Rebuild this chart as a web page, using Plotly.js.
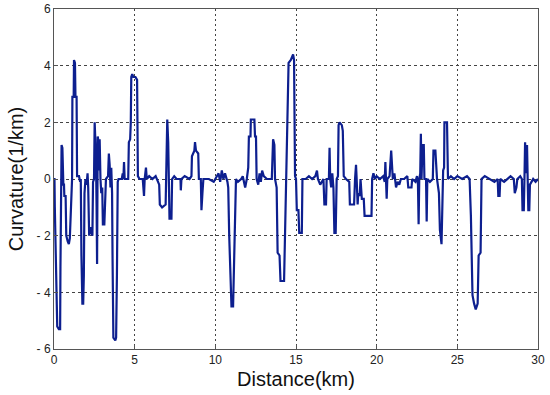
<!DOCTYPE html>
<html>
<head>
<meta charset="utf-8">
<script src="https://cdn.plot.ly/plotly-3.0.1.min.js"></script>
<style>html,body{margin:0;padding:0;background:#fff;}#chart{width:550px;height:395px;}</style>
</head>
<body>
<div id="chart"></div>
<script>
var distance = [
0.00,0.03,0.05,0.10,0.16,0.20,0.30,0.38,0.40,0.42,0.45,0.47,0.52,0.55,0.58,0.62,0.64,0.72,0.76,0.85,0.92,0.98,1.02,1.06,1.12,1.14,1.22,1.24,1.30,1.33,1.40,1.43,1.55,1.62,1.66,1.70,1.76,1.81,1.85,1.89,1.95,2.02,2.08,2.12,2.18,2.28,2.38,2.42,2.48,2.52,2.56,2.60,2.64,2.67,2.71,2.76,2.80,2.83,2.88,2.93,2.99,3.03,3.12,3.17,3.22,3.35,3.40,3.45,3.50,3.55,3.60,3.63,3.68,3.80,3.85,3.90,3.95,4.00,4.20,4.26,4.30,4.34,4.38,4.60,4.64,4.72,4.76,4.79,4.85,4.92,5.05,5.15,5.20,5.30,
5.50,5.58,5.62,5.70,5.75,5.90,6.10,6.30,6.45,6.52,6.56,6.70,6.92,6.96,7.02,7.08,7.12,7.16,7.28,7.32,7.45,7.60,7.84,7.86,7.90,8.10,8.40,8.52,8.55,8.70,8.74,8.80,8.94,8.98,9.10,9.14,9.20,9.26,9.60,9.90,10.00,10.20,10.30,10.40,10.50,10.60,10.75,
10.80,10.86,10.96,11.00,11.10,11.14,11.18,11.22,11.28,11.40,11.60,11.70,11.85,11.95,12.04,12.08,12.18,12.20,12.42,12.46,12.52,12.56,12.66,12.74,12.82,12.90,13.00,13.20,13.50,13.58,13.66,13.70,13.80,13.86,13.98,14.04,14.26,14.30,14.38,14.44,14.54,14.68,14.82,14.88,14.94,15.00,15.05,15.15,15.20,15.36,15.40,
15.60,15.80,16.00,16.20,16.30,16.36,16.50,16.70,16.76,16.86,16.90,17.04,17.08,17.12,17.18,17.25,17.32,17.38,17.46,17.52,17.60,17.64,17.70,17.84,17.90,17.96,18.10,18.30,18.34,18.60,18.66,18.72,18.76,18.82,18.86,18.95,19.00,19.08,19.20,19.25,19.68,19.72,19.80,19.90,20.00,20.20,20.40,20.50,20.54,20.58,20.62,20.66,20.80,20.90,20.95,21.00,21.10,21.20,21.30,21.40,21.50,
21.70,21.90,21.96,22.16,22.20,22.40,22.50,22.56,22.60,22.64,22.70,22.74,22.78,22.84,22.92,22.96,23.06,23.10,23.14,23.30,23.48,23.52,23.64,23.68,23.74,23.86,23.92,24.02,24.06,24.12,24.18,24.20,24.36,24.42,24.60,24.80,25.00,25.30,25.60,25.76,25.84,25.94,26.04,26.14,26.26,26.32,26.44,26.50,26.70,27.00,27.30,27.50,27.54,27.62,27.66,27.90,28.10,28.30,28.50,28.56,28.66,28.72,28.90,29.00,29.04,29.12,29.16,29.20,29.26,29.32,29.36,29.40,29.46,29.50,29.70,29.85,30.00
];
var curvature = [
0.0,0.0,-1.0,-3.0,-5.0,-5.2,-5.3,-5.3,-3.1,-0.3,0.1,1.2,1.1,0.1,-0.2,-0.2,-0.6,-0.6,-2.0,-2.2,-2.3,-2.1,-1.5,-0.3,0.0,2.9,2.9,4.2,4.1,2.9,2.9,0.1,0.1,-0.1,0.0,-2.7,-4.4,-4.4,-3.4,-0.5,0.0,-0.2,0.2,-0.3,-2.0,-1.7,-2.0,-0.1,0.0,2.0,1.5,0.8,-1.0,-3.0,1.5,1.3,0.3,1.4,0.0,-0.5,-0.3,-1.6,-1.6,-0.2,0.0,0.1,0.9,0.5,-0.3,0.4,-0.5,-2.8,-5.6,-5.7,-5.6,-3.4,-0.1,0.0,0.0,0.2,0.0,0.6,0.0,0.0,1.3,1.4,2.0,3.6,3.7,3.6,3.6,3.5,0.1,0.0,
0.0,-0.6,0.0,0.4,0.0,0.1,0.0,0.1,-0.1,-0.2,-0.9,-1.0,-0.9,0.0,2.1,1.3,0.0,-1.4,-1.4,0.0,0.1,0.0,0.0,-0.4,0.0,0.1,0.0,0.1,0.8,1.0,1.3,1.0,0.9,0.0,0.0,-1.1,-0.5,0.0,0.0,-0.1,0.0,0.2,-0.1,0.3,0.0,0.2,-0.1,
-0.3,-2.0,-4.2,-4.5,-4.5,-3.6,-2.0,-2.0,0.0,-0.1,0.0,0.1,-0.3,0.0,0.4,1.5,1.5,2.1,2.1,1.5,1.5,0.0,-0.2,0.2,-0.1,0.3,0.1,0.0,0.0,1.4,1.2,0.0,-0.3,-2.6,-2.7,-3.6,-3.6,-2.5,0.0,2.0,4.1,4.2,4.4,4.2,0.1,0.0,-1.1,-1.1,-1.9,-1.9,0.0,
0.0,0.1,0.0,0.1,0.3,0.0,-0.2,0.0,-0.9,-0.9,0.0,0.0,1.1,0.0,-0.3,0.2,-0.3,-1.9,-1.9,0.0,0.1,1.9,2.0,1.9,1.7,0.1,0.0,-0.1,-0.9,-0.9,0.0,0.5,0.0,-0.9,-0.5,-0.6,0.0,-0.7,-0.7,-1.3,-1.3,0.0,0.2,0.0,0.1,0.0,0.1,-0.1,0.6,0.0,-0.7,0.0,0.1,1.0,0.4,0.0,0.2,-0.3,-0.1,-0.2,0.0,
0.0,0.1,-0.3,-0.3,0.0,-0.1,0.1,-0.2,-1.6,0.0,0.2,1.6,0.0,1.2,1.2,0.0,0.0,-1.5,0.0,-0.1,0.0,1.0,1.0,0.6,0.0,-0.5,-1.8,-2.3,-0.5,0.3,0.4,2.0,2.0,0.0,0.1,0.0,0.1,0.0,0.1,0.0,-1.3,-4.1,-4.4,-4.6,-4.4,-2.7,-2.6,0.0,0.1,0.0,-0.1,0.0,-0.6,-0.6,0.0,-0.1,0.0,0.1,0.0,-0.5,-0.3,0.0,0.1,0.0,-1.1,-1.1,0.0,1.3,0.2,1.2,0.0,-1.1,-1.1,-0.2,0.0,-0.1,0.0
];
var xTicks = [0,5,10,15,20,25,30];
var xTickLabels = ["0","5","10","15","20","25","30"];
var yTicks = [-6,-4,-2,0,2,4,6];
var yTickLabels = ["- 6","- 4","- 2","0","2","4","6"];

var trace = {
  x: distance, y: curvature, type: 'scatter', mode: 'lines',
  line: {color: '#0d1f8f', width: 2.2}, hoverinfo: 'skip'
};
var axisCommon = {
  showline: true, mirror: true, linecolor: '#555', linewidth: 1,
  ticks: 'inside', ticklen: 4, tickcolor: '#555',
  showgrid: true, gridcolor: '#444', gridwidth: 1,
  zeroline: false,
  tickfont: {family: 'Liberation Sans, Arial, sans-serif', size: 12, color: '#222'}
};
var layout = {
  width: 550, height: 395,
  margin: {l: 54, r: 12, t: 9, b: 46},
  paper_bgcolor: '#fff', plot_bgcolor: '#fff',
  showlegend: false,
  xaxis: Object.assign({}, axisCommon, {
    range: [0, 30], tickvals: xTicks, ticktext: xTickLabels, griddash: '2px,3px',
    title: {text: 'Distance(km)', font: {family: 'Liberation Sans, Arial, sans-serif', size: 20, color: '#111'}, standoff: 5}
  }),
  yaxis: Object.assign({}, axisCommon, {
    range: [-6, 6], tickvals: yTicks, ticktext: yTickLabels, griddash: '3px,3px',
    title: {text: 'Curvature(1/km)', font: {family: 'Liberation Sans, Arial, sans-serif', size: 20, color: '#111'}, standoff: 7}
  })
};
Plotly.newPlot('chart', [trace], layout, {displayModeBar: false, staticPlot: true});
</script>
</body>
</html>
